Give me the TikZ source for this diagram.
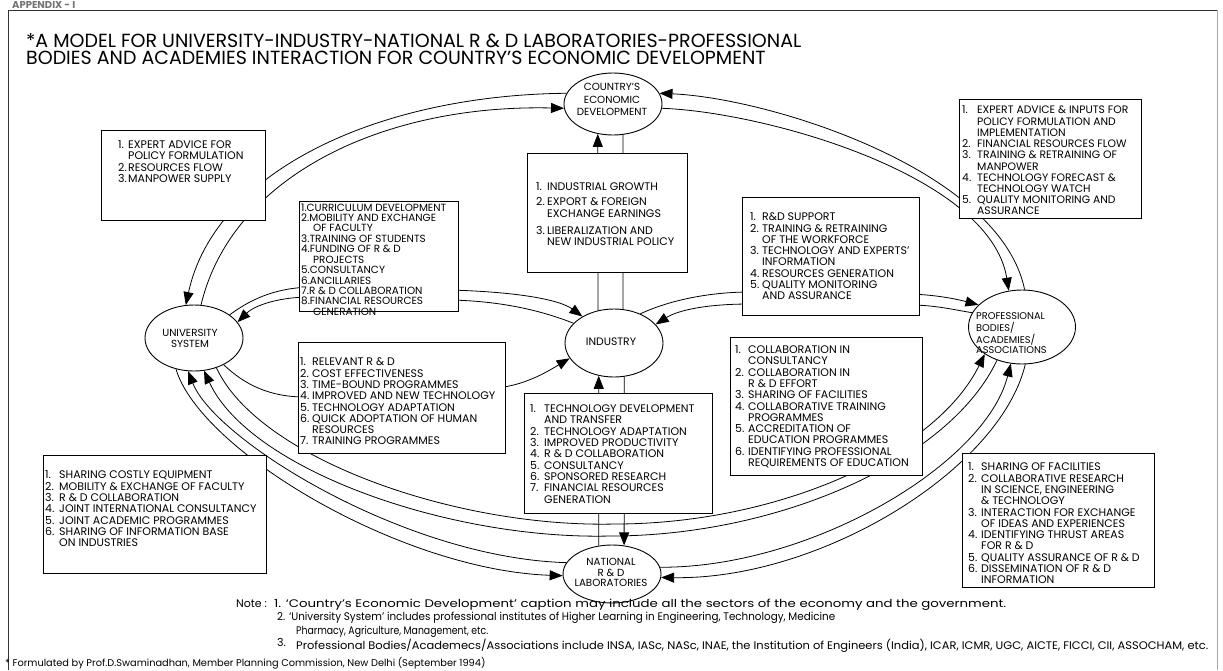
\documentclass[tikz,border=0pt]{standalone}
\usepackage{fontspec}
\setmainfont{Poppins}
\usetikzlibrary{arrows.meta,shapes.geometric}
\newlength\nw
\newcommand\Nm[1]{\makebox[\nw][l]{#1}}
\newcommand\Ct{\hspace*{\nw}}
\begin{document}
\begin{tikzpicture}[x=1pt,y=-1pt,
  ell/.style={draw, ellipse, line width=0.9pt, inner sep=0pt},
  ebox/.style={draw, fill=white, line width=0.8pt, anchor=north west, inner sep=0pt},
  lst/.style={anchor=base west, inner sep=0pt, font=\fontsize{11}{11.1}\selectfont},
  ctx/.style={anchor=base, inner sep=0pt, font=\fontsize{10.3}{12}\selectfont},
  note/.style={anchor=base west, inner sep=0pt, font=\fontsize{11}{13}\selectfont},
  con/.style={line width=0.8pt},
  arr/.style={con, -{Triangle[length=13pt,width=10pt]}},
]
\useasboundingbox (0,0) rectangle (1223,670);
% frame
\draw[line width=0.8pt, black!80] (8,670) -- (8,10) -- (1217,10);
\draw[line width=0.5pt, black!35] (1217,10) -- (1217,670);
\node[anchor=base west, inner sep=0pt, font=\bfseries\fontsize{10}{10}\selectfont, text=black!55] (app) at (12,8.5) {APPENDIX - I};
% title
\node[anchor=base west, inner sep=0pt, font=\fontsize{19}{19}\selectfont] (t1) at (26,47) {*A MODEL FOR UNIVERSITY-INDUSTRY-NATIONAL R \& D LABORATORIES-PROFESSIONAL};
\node[anchor=base west, inner sep=0pt, font=\fontsize{19}{19}\selectfont] (t2) at (26,64) {BODIES AND ACADEMIES INTERACTION FOR COUNTRY'S ECONOMIC DEVELOPMENT};
% ellipses
\node[ell, minimum width=98pt, minimum height=62pt] (CED) at (613,104) {};
\node[ell, minimum width=98pt, minimum height=66pt] (US) at (194,338) {};
\node[ell, minimum width=98pt, minimum height=68pt] (IND) at (614,343) {};
\node[ell, minimum width=98pt, minimum height=58pt] (NL) at (612,574) {};
\node[ell, minimum width=107pt, minimum height=74pt] (PB) at (1022,327) {};
\node[ctx, font=\fontsize{10.3}{12.5}\selectfont] (tCED) at (612,90.5) {\begin{tabular}[t]{@{}c@{}}COUNTRY'S\\ECONOMIC\\DEVELOPMENT\end{tabular}};
\node[ctx, font=\fontsize{10.3}{10.5}\selectfont] (tUS) at (190,336.5) {\begin{tabular}[t]{@{}c@{}}UNIVERSITY\\SYSTEM\end{tabular}};
\node[ctx, font=\fontsize{10.8}{12}\selectfont] (tIND) at (611,345.5) {INDUSTRY};
\node[ctx, font=\fontsize{10.3}{10.6}\selectfont] (tNL) at (611,565.5) {\begin{tabular}[t]{@{}c@{}}NATIONAL\\R \& D\\LABORATORIES\end{tabular}};
\node[anchor=base west, inner sep=0pt, font=\fontsize{9.8}{9.6}\selectfont] (tPB) at (976,319) {\begin{tabular}[t]{@{}l@{}}PROFESSIONAL\\BODIES/\\ACADEMIES/\\ASSOCIATIONS\end{tabular}};
% connectors
\draw[arr] (CED.167) .. controls (380,95) and (215,170) .. (US.104);
\draw[arr] (US.78) .. controls (232,175) and (385,104) .. (CED.185);
\draw[arr] (PB.86) .. controls (1000,170) and (770,98) .. (CED.13);
\draw[arr] (CED.-5) .. controls (765,112) and (990,175) .. (PB.110);
\draw[arr] (IND.116.5) -- (CED.-117);
\draw[con] (CED.-72) -- (IND.75);
\draw[arr] (US.33) .. controls (255,296) and (280,288) .. (310,287) -- (450,290) .. controls (520,292) and (560,300) .. (IND.140);
\draw[arr] (IND.154) .. controls (540,310) and (500,301) .. (450,300) -- (310,297) .. controls (280,297) and (255,305) .. (US.20);
\draw[arr] (US.-42) .. controls (245,385) and (270,397) .. (305,397) -- (495,388) .. controls (525,386) and (550,370) .. (IND.-161);
\draw[arr] (IND.48) .. controls (670,300) and (710,292) .. (750,292) -- (910,294) .. controls (940,295) and (960,300) .. (PB.153);
\draw[arr] (PB.164) .. controls (955,310) and (935,305) .. (910,305) -- (750,304) .. controls (700,304) and (675,312) .. (IND.24);
\draw[arr] (NL.115) -- (IND.-115);
\draw[arr] (IND.-73) -- (NL.67);
\draw[arr] (US.-120) .. controls (200,450) and (400,570) .. (NL.182);
\draw[arr] (NL.166) .. controls (405,558) and (215,440) .. (US.-100);
\draw[arr] (PB.-127) .. controls (950,460) and (780,536) .. (610,536) .. controls (450,540) and (250,470) .. (US.-73);
\draw[arr] (US.-53) .. controls (258,458) and (455,528) .. (615,524) .. controls (775,524) and (935,455) .. (PB.-144);
\draw[arr] (PB.-85) .. controls (1000,470) and (820,580) .. (NL.-4);
\draw[arr] (NL.8) .. controls (810,568) and (985,465) .. (PB.-107);
% boxes
\node[ebox, minimum width=164pt, minimum height=90pt] (bA) at (101,130) {};
\node[lst] (tA) at (118,148.8) {\setlength\nw{10pt}\begin{tabular}[t]{@{}l@{}}
\Nm{1.}EXPERT ADVICE FOR\\ \Ct POLICY FORMULATION\\ \Nm{2.}RESOURCES FLOW\\ \Nm{3.}MANPOWER SUPPLY\end{tabular}};
\node[ebox, minimum width=159pt, minimum height=110pt] (bB) at (299,201) {};
\node[lst, font=\fontsize{10.4}{9.7}\selectfont] (tB) at (301,211) {\setlength\nw{12pt}\begin{tabular}[t]{@{}l@{}}
1.CURRICULUM DEVELOPMENT\\ 2.MOBILITY AND EXCHANGE\\ \Ct OF FACULTY\\ 3.TRAINING OF STUDENTS\\ 4.FUNDING OF R \& D\\ \Ct PROJECTS\\ 5.CONSULTANCY\\ 6.ANCILLARIES\\ 7.R \& D COLLABORATION\\ 8.FINANCIAL RESOURCES\\ \Ct GENERATION\end{tabular}};
\node[ebox, minimum width=160pt, minimum height=119pt] (bC) at (527,153) {};
\node[lst, font=\fontsize{11}{11.5}\selectfont] (tC) at (536,190.8) {\setlength\nw{11pt}\begin{tabular}[t]{@{}l@{}}
\Nm{1.}INDUSTRIAL GROWTH\\[3.5pt] \Nm{2.}EXPORT \& FOREIGN\\ \Ct EXCHANGE EARNINGS\\[5.5pt] \Nm{3.}LIBERALIZATION AND\\ \Ct NEW INDUSTRIAL POLICY\end{tabular}};
\node[ebox, minimum width=177pt, minimum height=118pt] (bD) at (742,197) {};
\node[lst] (tD) at (750,220.8) {\setlength\nw{12pt}\begin{tabular}[t]{@{}l@{}}
\Nm{1.}R\&D SUPPORT\\ \Nm{2.}TRAINING \& RETRAINING\\ \Ct OF THE WORKFORCE\\ \Nm{3.}TECHNOLOGY AND EXPERTS'\\ \Ct INFORMATION\\ \Nm{4.}RESOURCES GENERATION\\ \Nm{5.}QUALITY MONITORING\\ \Ct AND ASSURANCE\end{tabular}};
\node[ebox, minimum width=182pt, minimum height=119pt] (bE) at (959,99) {};
\node[lst, font=\fontsize{10.8}{11.2}\selectfont] (tE) at (962,113.8) {\setlength\nw{15pt}\begin{tabular}[t]{@{}l@{}}
\Nm{1.}EXPERT ADVICE \& INPUTS FOR\\ \Ct POLICY FORMULATION AND\\ \Ct IMPLEMENTATION\\ \Nm{2.}FINANCIAL RESOURCES FLOW\\ \Nm{3.}TRAINING \& RETRAINING OF\\ \Ct MANPOWER\\ \Nm{4.}TECHNOLOGY FORECAST \&\\ \Ct TECHNOLOGY WATCH\\ \Nm{5.}QUALITY MONITORING AND\\ \Ct ASSURANCE\end{tabular}};
\node[ebox, minimum width=207pt, minimum height=111pt] (bF) at (298,342) {};
\node[lst] (tF) at (300,365.8) {\setlength\nw{12pt}\begin{tabular}[t]{@{}l@{}}
\Nm{1.}RELEVANT R \& D\\ \Nm{2.}COST EFFECTIVENESS\\ \Nm{3.}TIME-BOUND PROGRAMMES\\ \Nm{4.}IMPROVED AND NEW TECHNOLOGY\\ \Nm{5.}TECHNOLOGY ADAPTATION\\ \Nm{6.}QUICK ADOPTATION OF HUMAN\\ \Ct RESOURCES\\ \Nm{7.}TRAINING PROGRAMMES\end{tabular}};
\node[ebox, minimum width=188pt, minimum height=120pt] (bG) at (524,393) {};
\node[lst] (tG) at (530,412.8) {\setlength\nw{14pt}\begin{tabular}[t]{@{}l@{}}
\Nm{1.}TECHNOLOGY DEVELOPMENT\\ \Ct AND TRANSFER\\ \Nm{2.}TECHNOLOGY ADAPTATION\\ \Nm{3.}IMPROVED PRODUCTIVITY\\ \Nm{4.}R \& D COLLABORATION\\ \Nm{5.}CONSULTANCY\\ \Nm{6.}SPONSORED RESEARCH\\ \Nm{7.}FINANCIAL RESOURCES\\ \Ct GENERATION\end{tabular}};
\node[ebox, minimum width=192pt, minimum height=138pt] (bH) at (730,337) {};
\node[lst] (tH) at (735,353.8) {\setlength\nw{13pt}\begin{tabular}[t]{@{}l@{}}
\Nm{1.}COLLABORATION IN\\ \Ct CONSULTANCY\\ \Nm{2.}COLLABORATION IN\\ \Ct R \& D EFFORT\\ \Nm{3.}SHARING OF FACILITIES\\ \Nm{4.}COLLABORATIVE TRAINING\\ \Ct PROGRAMMES\\ \Nm{5.}ACCREDITATION OF\\ \Ct EDUCATION PROGRAMMES\\ \Nm{6.}IDENTIFYING PROFESSIONAL\\ \Ct REQUIREMENTS OF EDUCATION\end{tabular}};
\node[ebox, minimum width=192pt, minimum height=134pt] (bI) at (962,453) {};
\node[lst, font=\fontsize{11}{11.2}\selectfont] (tI) at (968,470.8) {\setlength\nw{13pt}\begin{tabular}[t]{@{}l@{}}
\Nm{1.}SHARING OF FACILITIES\\ \Nm{2.}COLLABORATIVE RESEARCH\\ \Ct IN SCIENCE, ENGINEERING\\ \Ct \& TECHNOLOGY\\ \Nm{3.}INTERACTION FOR EXCHANGE\\ \Ct OF IDEAS AND EXPERIENCES\\ \Nm{4.}IDENTIFYING THRUST AREAS\\ \Ct FOR R \& D\\ \Nm{5.}QUALITY ASSURANCE OF R \& D\\ \Nm{6.}DISSEMINATION OF R \& D\\ \Ct INFORMATION\end{tabular}};
\node[ebox, minimum width=223pt, minimum height=118pt] (bJ) at (43,455) {};
\node[lst, font=\fontsize{11}{11.2}\selectfont] (tJ) at (45,478.8) {\setlength\nw{14pt}\begin{tabular}[t]{@{}l@{}}
\Nm{1.}SHARING COSTLY EQUIPMENT\\ \Nm{2.}MOBILITY \& EXCHANGE OF FACULTY\\ \Nm{3.}R \& D COLLABORATION\\ \Nm{4.}JOINT INTERNATIONAL CONSULTANCY\\ \Nm{5.}JOINT ACADEMIC PROGRAMMES\\ \Nm{6.}SHARING OF INFORMATION BASE\\ \Ct ON INDUSTRIES\end{tabular}};
% notes
\node[note] (n0) at (236,607) {Note :};
\node[note] (n1) at (274,607) {\resizebox{732pt}{\height}{1. `Country's Economic Development' caption may include all the sectors of the economy and the government.}};
\node[note] (n2) at (277,620) {\resizebox{558pt}{\height}{2. `University System' includes professional institutes of Higher Learning in Engineering, Technology, Medicine}};
\node[note] (n3) at (296,634) {\resizebox{192pt}{\height}{Pharmacy, Agriculture, Management, etc.}};
\node[note] (n4a) at (277,646) {3.};
\node[note] (n4) at (296,649) {\resizebox{912pt}{\height}{Professional Bodies/Academecs/Associations include INSA, IASc, NASc, INAE, the Institution of Engineers (India), ICAR, ICMR, UGC, AICTE, FICCI, CII, ASSOCHAM, etc.}};
\node[note, font=\fontsize{9.8}{11}\selectfont] (foot) at (5,666) {* Formulated by Prof.D.Swaminadhan, Member Planning Commission, New Delhi (September 1994)};
\end{tikzpicture}
\end{document}
